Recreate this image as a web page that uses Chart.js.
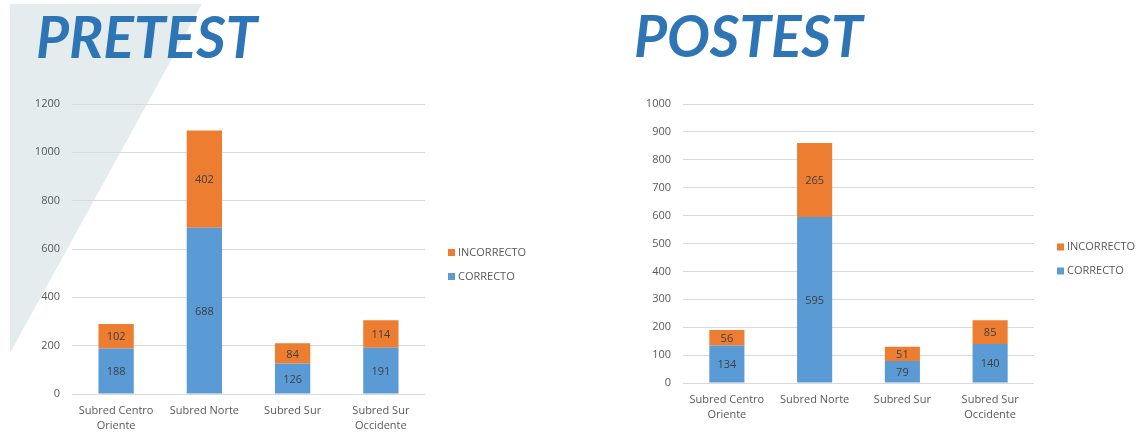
<!DOCTYPE html>
<html>
<head>
<meta charset="utf-8">
<script src="https://cdn.jsdelivr.net/npm/chart.js@4/dist/chart.umd.min.js"></script>
<style>
  html, body { margin: 0; padding: 0; background: #ffffff; }
  body { width: 1146px; height: 434px; position: relative; overflow: hidden; }
  #tri { position: absolute; left: 0; top: 0; width: 300px; height: 434px; background: #E4ECEE;
         clip-path: polygon(10px 4px, 202px 4px, 10px 353px); }
  .title { position: absolute; font-family: Lato, "Open Sans", sans-serif; font-weight: 700; font-style: italic;
           color: #2E75B6; font-size: 57px; line-height: 1; white-space: nowrap; }
  #t1 { left: 36px; top: 8px; }
  #t2 { left: 634px; top: 7px; }
  canvas { position: absolute; top: 0; }
  #c1 { left: 0; }
  #c2 { left: 573px; }
</style>
</head>
<body>
<div id="tri"></div>
<div class="title" id="t1">PRETEST</div>
<div class="title" id="t2">POSTEST</div>
<canvas id="c1" width="573" height="434"></canvas>
<canvas id="c2" width="573" height="434"></canvas>
<script>
const categories = [["Subred Centro", "Oriente"], ["Subred Norte"], ["Subred Sur"], ["Subred Sur", "Occidente"]];
const seriesNames = ["CORRECTO", "INCORRECTO"];
const pretestCorrecto = [188, 688, 126, 191];
const pretestIncorrecto = [102, 402, 84, 114];
const postestCorrecto = [134, 595, 79, 140];
const postestIncorrecto = [56, 265, 51, 85];
const pretestTicks = { max: 1200, step: 200 };
const postestTicks = { max: 1000, step: 100 };

const FONT = "'Open Sans', sans-serif";
const TXT = '#595959';
const COLORS = ['#5B9BD5', '#ED7D31'];

const valueLabels = {
  id: 'valueLabels',
  afterDatasetsDraw(chart) {
    const ctx = chart.ctx;
    ctx.save();
    ctx.font = '11px ' + FONT;
    ctx.fillStyle = '#404040';
    ctx.textAlign = 'center';
    ctx.textBaseline = 'middle';
    chart.data.datasets.forEach((ds, i) => {
      const meta = chart.getDatasetMeta(i);
      meta.data.forEach((el, j) => {
        ctx.fillText(String(ds.data[j]), el.x, (el.y + el.base) / 2 + 1);
      });
    });
    ctx.restore();
  }
};

const sideLegend = {
  id: 'sideLegend',
  afterDraw(chart) {
    const ctx = chart.ctx;
    const area = chart.chartArea;
    const ds = chart.data.datasets.slice().reverse();
    const spacing = 24;
    const cy = (area.top + area.bottom) / 2 + 15.5;
    const x = area.right + 23;
    ctx.save();
    ctx.font = '11px ' + FONT;
    ctx.textBaseline = 'middle';
    ctx.textAlign = 'left';
    ds.forEach((d, i) => {
      const y = cy + (i - (ds.length - 1) / 2) * spacing;
      ctx.fillStyle = d.backgroundColor;
      ctx.fillRect(x, y - 3.5, 7, 7);
      ctx.fillStyle = TXT;
      ctx.fillText(d.label, x + 10, y);
    });
    ctx.restore();
  }
};

function makeChart(id, correcto, incorrecto, ticks, pad, xHeight) {
  return new Chart(document.getElementById(id), {
    type: 'bar',
    data: {
      labels: categories,
      datasets: [
        { label: seriesNames[0], data: correcto, backgroundColor: COLORS[0] },
        { label: seriesNames[1], data: incorrecto, backgroundColor: COLORS[1] }
      ]
    },
    options: {
      responsive: false,
      animation: false,
      devicePixelRatio: 1,
      layout: { padding: pad },
      plugins: { legend: { display: false }, tooltip: { enabled: false } },
      datasets: { bar: { categoryPercentage: 1, barPercentage: 0.4 } },
      scales: {
        x: {
          stacked: true,
          grid: { display: false, drawTicks: false },
          border: { display: false },
          ticks: { color: TXT, font: { family: FONT, size: 11, lineHeight: 1.4 }, padding: 9, maxRotation: 0, autoSkip: false },
          afterFit(s) { s.height = xHeight; }
        },
        y: {
          stacked: true,
          min: 0, max: ticks.max,
          grid: { color: '#D9D9D9', drawTicks: false },
          border: { display: false },
          ticks: { stepSize: ticks.step, color: TXT, font: { family: FONT, size: 11 }, padding: 12,
                   callback: (v) => String(v) },
          afterFit(s) { s.width = 72; }
        }
      }
    },
    plugins: [valueLabels, sideLegend]
  });
}

makeChart('c1', pretestCorrecto, pretestIncorrecto, pretestTicks, { left: 0, right: 148, top: 104, bottom: 0 }, 40);
makeChart('c2', postestCorrecto, postestIncorrecto, postestTicks, { left: 38, right: 112, top: 104, bottom: 0 }, 51);
</script>
</body>
</html>
